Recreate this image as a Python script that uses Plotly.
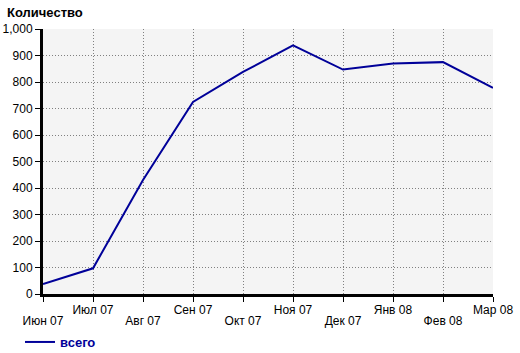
import plotly.graph_objects as go

months = ["Июн 07", "Июл 07", "Авг 07", "Сен 07", "Окт 07", "Ноя 07",
          "Дек 07", "Янв 08", "Фев 08", "Мар 08"]
total = [38, 97, 430, 725, 838, 938, 847, 870, 875, 778]
series_name = "всего"
y_ticks = list(range(0, 1001, 100))

x_idx = list(range(len(months)))
upper_text = ["" if i % 2 == 0 else m for i, m in enumerate(months)]
lower_vals = [i for i in x_idx if i % 2 == 0]
lower_text = [months[i] for i in lower_vals]

fig = go.Figure()
# helper trace that only carries the second (lower) row of month labels
fig.add_trace(go.Scatter(
    x=x_idx, y=total, mode="lines", xaxis="x2", showlegend=False,
    line=dict(color="rgba(0,0,0,0)", width=0), hoverinfo="skip",
))
fig.add_trace(go.Scatter(
    x=x_idx, y=total, mode="lines", name=series_name,
    line=dict(color="#000099", width=2),
))

fig.update_layout(
    width=520, height=353,
    margin=dict(l=43, r=27, t=29, b=59, autoexpand=False),
    paper_bgcolor="white", plot_bgcolor="#f4f4f4",
    font=dict(family="Liberation Sans, Arial, sans-serif", size=12, color="black"),
    showlegend=True,
    legend=dict(
        orientation="h", xref="container", yref="container",
        x=20/520, y=1 - 327/353, xanchor="left", yanchor="top",
        font=dict(color="#000099", size=13, family="Liberation Sans, Arial, sans-serif", weight="bold"),
        bgcolor="rgba(0,0,0,0)", itemwidth=30,
    ),
    xaxis=dict(
        range=[0, 9], tickvals=x_idx, ticktext=upper_text, automargin=False,
        showline=True, linecolor="black", linewidth=3,
        ticks="outside", ticklen=5, tickcolor="black", tickwidth=1,
        showgrid=True, gridcolor="#808080", griddash="1px,2px", gridwidth=1,
        zeroline=False, tickangle=0, ticklabelstandoff=-2,
    ),
    xaxis2=dict(
        overlaying="x", anchor="y", side="bottom", range=[0, 9],
        tickvals=lower_vals, ticktext=lower_text, automargin=False,
        showline=False, showgrid=False, zeroline=False,
        ticks="outside", ticklen=5, tickcolor="rgba(0,0,0,0)",
        ticklabelstandoff=11, tickangle=0,
    ),
    yaxis=dict(
        range=[0, 1000], tickvals=y_ticks, tickformat=",", automargin=False,
        showline=True, linecolor="black", linewidth=3,
        ticks="outside", ticklen=5, tickcolor="black", tickwidth=1,
        showgrid=True, gridcolor="#808080", griddash="1px,2px", gridwidth=1,
        zeroline=False,
    ),
)
fig.add_annotation(text="<b>Количество</b>", xref="paper", yref="paper",
                   x=-38/450, y=1 + 17/265, xanchor="left", yanchor="middle",
                   showarrow=False, font=dict(size=13, color="black"))

fig.write_html("out.html")
